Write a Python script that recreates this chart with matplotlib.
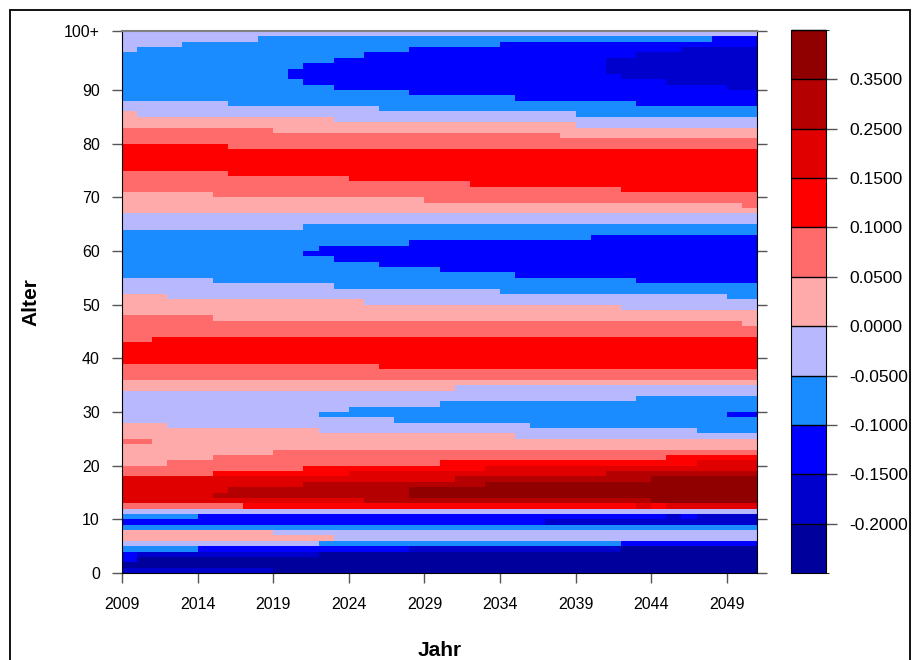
import numpy as np
import matplotlib.pyplot as plt
from matplotlib.colors import ListedColormap, BoundaryNorm
from matplotlib.patches import Rectangle

# cell edges: years 2009..2051, ages 0..101 (top row = 100+)
year_edges = np.arange(2009, 2052)
age_edges = np.arange(0, 102)

# colour classes of the change rate
bounds = [-0.25, -0.20, -0.15, -0.10, -0.05, 0.0, 0.05, 0.10, 0.15, 0.25, 0.35, 0.45]
class_values = [-0.225, -0.175, -0.125, -0.075, -0.025, 0.025, 0.075, 0.125, 0.20, 0.30, 0.40]
colors = ['#00009c', '#0000cd', '#0000ff', '#1a8cff', '#b8b8ff', '#ffaaaa',
          '#ff6a6a', '#ff0000', '#e00000', '#b40000', '#900000']

# per age: (first year, class) runs
runs = [
    [(2009, 1), (2019, 0)],                                  # 0
    [(2009, 0)],
    [(2009, 2), (2010, 0)],
    [(2009, 2), (2010, 1), (2022, 0)],
    [(2009, 3), (2014, 2), (2028, 1), (2042, 0)],
    [(2009, 4), (2022, 3), (2042, 2)],                       # 5
    [(2009, 5), (2023, 4)],
    [(2009, 5), (2019, 4)],
    [(2009, 3)],
    [(2009, 2), (2037, 1)],
    [(2009, 3), (2014, 2), (2045, 1), (2046, 2), (2047, 1)],  # 10
    [(2009, 4)],
    [(2009, 6), (2017, 7), (2043, 8), (2044, 7), (2045, 8)],
    [(2009, 8), (2025, 9), (2044, 10)],
    [(2009, 8), (2015, 9), (2028, 10)],
    [(2009, 8), (2016, 9), (2028, 10)],                      # 15
    [(2009, 8), (2021, 9), (2033, 10)],
    [(2009, 8), (2031, 9), (2044, 10)],
    [(2009, 6), (2015, 7), (2024, 8), (2041, 9)],
    [(2009, 6), (2021, 7), (2033, 8)],
    [(2009, 5), (2012, 6), (2030, 7), (2047, 8)],            # 20
    [(2009, 5), (2015, 6), (2045, 7)],
    [(2009, 5), (2019, 6)],
    [(2009, 5)],
    [(2009, 6), (2011, 5)],
    [(2009, 5), (2035, 4)],                                  # 25
    [(2009, 5), (2022, 4), (2047, 3)],
    [(2009, 5), (2012, 4), (2036, 3)],
    [(2009, 4), (2027, 3)],
    [(2009, 4), (2022, 3), (2049, 2)],
    [(2009, 4), (2024, 3)],                                  # 30
    [(2009, 4), (2030, 3)],
    [(2009, 4), (2043, 3)],
    [(2009, 4)],
    [(2009, 5), (2031, 4)],
    [(2009, 5)],                                             # 35
    [(2009, 6)],
    [(2009, 6)],
    [(2009, 6), (2026, 7)],
    [(2009, 7)],
    [(2009, 7)],                                             # 40
    [(2009, 7)],
    [(2009, 7)],
    [(2009, 6), (2011, 7)],
    [(2009, 6)],
    [(2009, 6)],                                             # 45
    [(2009, 6), (2050, 5)],
    [(2009, 6), (2015, 5)],
    [(2009, 5)],
    [(2009, 5), (2042, 4)],
    [(2009, 5), (2025, 4)],                                  # 50
    [(2009, 5), (2012, 4), (2049, 3)],
    [(2009, 4), (2034, 3)],
    [(2009, 4), (2023, 3)],
    [(2009, 4), (2015, 3), (2043, 2)],
    [(2009, 3), (2035, 2)],                                  # 55
    [(2009, 3), (2030, 2)],
    [(2009, 3), (2026, 2)],
    [(2009, 3), (2023, 2)],
    [(2009, 3), (2021, 2)],
    [(2009, 3), (2022, 2)],                                  # 60
    [(2009, 3), (2028, 2)],
    [(2009, 3), (2040, 2)],
    [(2009, 3)],
    [(2009, 4), (2021, 3)],
    [(2009, 4)],                                             # 65
    [(2009, 4)],
    [(2009, 5)],
    [(2009, 5), (2050, 6)],
    [(2009, 5), (2029, 6)],
    [(2009, 5), (2015, 6)],                                  # 70
    [(2009, 6), (2042, 7)],
    [(2009, 6), (2032, 7)],
    [(2009, 6), (2024, 7)],
    [(2009, 6), (2016, 7)],
    [(2009, 7)],                                             # 75
    [(2009, 7)],
    [(2009, 7)],
    [(2009, 7)],
    [(2009, 7), (2016, 6)],
    [(2009, 6)],                                             # 80
    [(2009, 6), (2038, 5)],
    [(2009, 6), (2019, 5)],
    [(2009, 5), (2039, 4)],
    [(2009, 5), (2023, 4)],
    [(2009, 5), (2010, 4), (2039, 3)],                       # 85
    [(2009, 4), (2026, 3)],
    [(2009, 4), (2016, 3), (2043, 2)],
    [(2009, 3), (2035, 2)],
    [(2009, 3), (2028, 2)],
    [(2009, 3), (2023, 2), (2049, 1)],                       # 90
    [(2009, 3), (2021, 2), (2045, 1)],
    [(2009, 3), (2020, 2), (2042, 1)],
    [(2009, 3), (2020, 2), (2041, 1)],
    [(2009, 3), (2021, 2), (2041, 1)],
    [(2009, 3), (2023, 2), (2041, 1)],                       # 95
    [(2009, 3), (2025, 2), (2043, 1)],
    [(2009, 4), (2010, 3), (2028, 2), (2046, 1)],
    [(2009, 4), (2013, 3), (2034, 2)],
    [(2009, 4), (2018, 3), (2048, 2)],
    [(2009, 4)],                                             # 100+
]

x_ticks = [2009, 2014, 2019, 2024, 2029, 2034, 2039, 2044, 2049]
y_ticks = [0, 10, 20, 30, 40, 50, 60, 70, 80, 90, 101]
y_labels = ['0', '10', '20', '30', '40', '50', '60', '70', '80', '90', '100+']

# expand runs to a value grid
Z = np.zeros((len(runs), len(year_edges) - 1))
for i, row in enumerate(runs):
    for j, yr in enumerate(year_edges[:-1]):
        cls = [c for (start, c) in row if start <= yr][-1]
        Z[i, j] = class_values[cls]

cmap = ListedColormap(colors)
norm = BoundaryNorm(bounds, cmap.N)

tick_font = 'Liberation Sans'

fig = plt.figure(figsize=(9.13, 6.6), dpi=100)
ax = fig.add_axes([122 / 913, 87 / 660, 635 / 913, 542 / 660])
mesh = ax.pcolormesh(year_edges, age_edges, Z, cmap=cmap, norm=norm)

ax.set_xlim(2009, 2051)
ax.set_ylim(0, 101)
ax.set_xticks(x_ticks)
ax.set_xticklabels([str(t) for t in x_ticks], family=tick_font, fontsize=11.5)
ax.set_yticks(y_ticks)
ax.set_yticklabels(y_labels, family=tick_font, fontsize=11.5)
ax.tick_params(axis='x', direction='out', length=7, width=1, color='#555555', pad=10)
ax.tick_params(axis='y', direction='out', length=7, width=1, color='#555555', pad=9,
               right=True)
for side in ['left', 'bottom', 'right']:
    ax.spines[side].set_color('black')
ax.spines['top'].set_color('#808080')
ax.spines['top'].set_linewidth(1.5)

fig.text(31 / 913, 1 - 302 / 660, 'Alter', rotation=90, ha='center', va='center',
         fontsize=15, fontweight='bold', family='Liberation Sans')
fig.text(440 / 913, 1 - 650 / 660, 'Jahr', ha='center', va='center',
         fontsize=15, fontweight='bold', family='Liberation Sans')

# colour key
cax = fig.add_axes([791 / 913, 87 / 660, 35 / 913, 543 / 660])
cb = fig.colorbar(mesh, cax=cax, boundaries=bounds, ticks=bounds[1:-1],
                  spacing='uniform', drawedges=True)
cb.ax.set_yticklabels(['%.4f' % b for b in bounds[1:-1]], family='Liberation Sans',
                      fontsize=12.5)
cb.ax.tick_params(length=8, width=1, color='#555555', pad=9)
cb.outline.set_edgecolor('black')
cb.dividers.set_color('black')
cb.dividers.set_linewidth(1)

# frame round the whole chart
fig.patches.append(Rectangle((10 / 913, -0.1), 900 / 913, 1.1 - 10 / 660,
                             transform=fig.transFigure, fill=False,
                             edgecolor='black', linewidth=1.3))

fig.savefig('out.png', dpi=100)
